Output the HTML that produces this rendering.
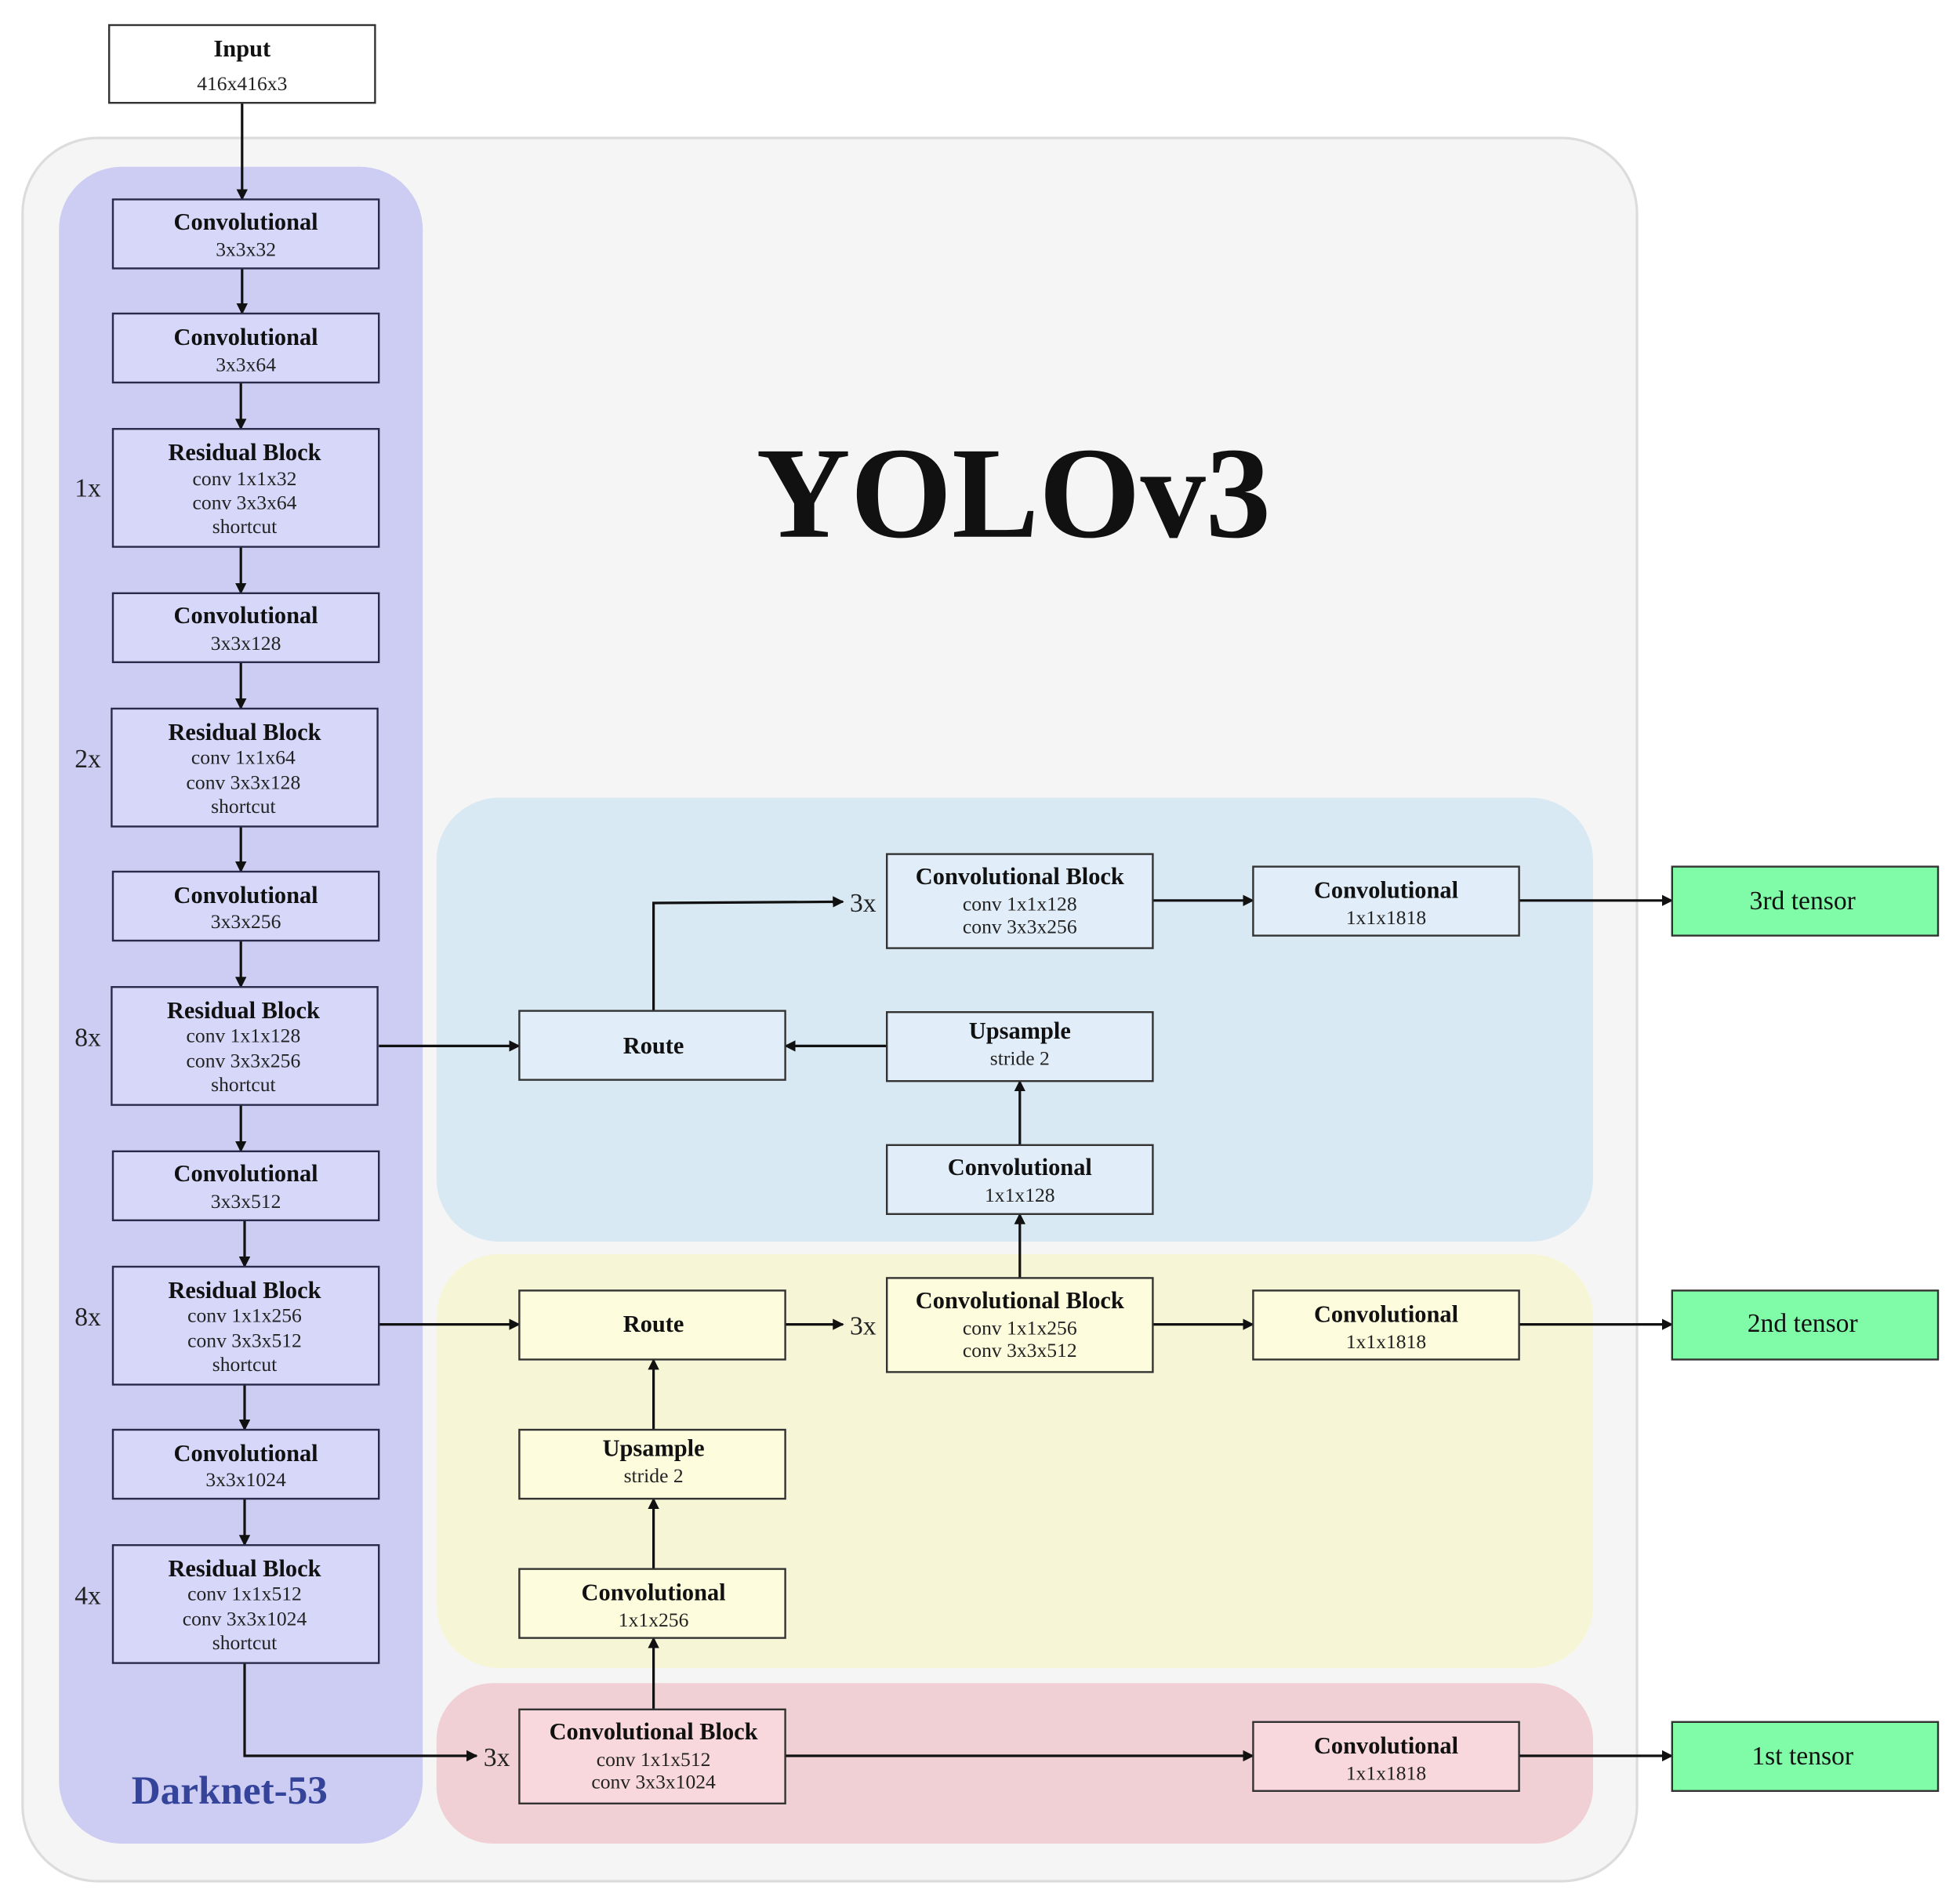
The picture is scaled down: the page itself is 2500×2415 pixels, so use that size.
<!DOCTYPE html>
<html><head><meta charset="utf-8"><style>html,body{margin:0;padding:0;background:#fff}svg{display:block}</style></head><body>
<svg width="2500" height="2415" viewBox="0 0 1562.5 1509.375" xmlns="http://www.w3.org/2000/svg" font-family="'Liberation Serif',serif">
<defs><marker id="a" viewBox="0 0 10 10" refX="9" refY="5" markerWidth="9" markerHeight="9" markerUnits="userSpaceOnUse" orient="auto"><path d="M0,0L10,5L0,10z" fill="#111"/></marker></defs>
<rect x="18" y="110" width="1287" height="1390" rx="60" fill="#f5f5f5" stroke="#dcdcdc" stroke-width="2"/>
<rect x="47" y="133" width="290" height="1337" rx="50" fill="#cdcdf3"/>
<rect x="348" y="636" width="922" height="354" rx="50" fill="#d9e9f3"/>
<rect x="348" y="1000" width="922" height="330" rx="50" fill="#f6f6d6"/>
<rect x="348" y="1342" width="922" height="128" rx="45" fill="#f0d0d5"/>
<text x="808" y="428" font-size="104" font-weight="bold" text-anchor="middle" fill="#111">YOLOv3</text>
<text x="183" y="1438" font-size="32" font-weight="bold" text-anchor="middle" fill="#34449a">Darknet-53</text>
<g stroke="#111" stroke-width="2" fill="none" marker-end="url(#a)">
<path d="M193,82V159"/><path d="M193,214V250"/><path d="M192,305V342"/><path d="M192,436V473"/><path d="M192,528V565"/><path d="M192,659V695"/><path d="M192,750V787"/><path d="M192,881V918"/><path d="M195,973V1010"/><path d="M195,1104V1140"/><path d="M195,1195V1232"/>
<path d="M195,1326V1400H380"/>
<path d="M302,834H414"/><path d="M707,834H626"/><path d="M521,806V720L672,719"/><path d="M919,718H999"/><path d="M1211,718H1333"/>
<path d="M813,913V862"/><path d="M813,1019V968"/>
<path d="M302,1056H414"/><path d="M626,1056H672"/><path d="M919,1056H999"/><path d="M1211,1056H1333"/>
<path d="M521,1140V1084"/><path d="M521,1251V1195"/><path d="M521,1363V1306"/>
<path d="M626,1400L999,1400"/><path d="M1211,1400H1333"/>
</g>
<g font-size="21" fill="#222" text-anchor="middle"><text x="688" y="727">3x</text><text x="688" y="1064">3x</text><text x="396" y="1408">3x</text>
<text x="70" y="396">1x</text><text x="70" y="612">2x</text><text x="70" y="834">8x</text><text x="70" y="1057">8x</text><text x="70" y="1279">4x</text></g>
<g stroke="#333" stroke-width="1.5">
<rect x="87" y="20" width="212" height="62" fill="#fff"/>
<g fill="#d7d7fa" stroke="#2a2a4a">
<rect x="90" y="159" width="212" height="55"/><rect x="90" y="250" width="212" height="55"/><rect x="90" y="342" width="212" height="94"/><rect x="90" y="473" width="212" height="55"/><rect x="89" y="565" width="212" height="94"/><rect x="90" y="695" width="212" height="55"/><rect x="89" y="787" width="212" height="94"/><rect x="90" y="918" width="212" height="55"/><rect x="90" y="1010" width="212" height="94"/><rect x="90" y="1140" width="212" height="55"/><rect x="90" y="1232" width="212" height="94"/>
</g>
<g fill="#e1eef9"><rect x="707" y="681" width="212" height="75"/><rect x="999" y="691" width="212" height="55"/><rect x="414" y="806" width="212" height="55"/><rect x="707" y="807" width="212" height="55"/><rect x="707" y="913" width="212" height="55"/></g>
<g fill="#fdfddd"><rect x="414" y="1029" width="212" height="55"/><rect x="707" y="1019" width="212" height="75"/><rect x="999" y="1029" width="212" height="55"/><rect x="414" y="1140" width="212" height="55"/><rect x="414" y="1251" width="212" height="55"/></g>
<g fill="#f8d8dc"><rect x="414" y="1363" width="212" height="75"/><rect x="999" y="1373" width="212" height="55"/></g>
<g fill="#80fca8"><rect x="1333" y="691" width="212" height="55"/><rect x="1333" y="1029" width="212" height="55"/><rect x="1333" y="1373" width="212" height="55"/></g>
</g>
<g text-anchor="middle" fill="#111">
<g font-size="19" font-weight="bold">
<text x="193" y="45">Input</text>
<text x="196" y="183">Convolutional</text><text x="196" y="275">Convolutional</text><text x="195" y="367">Residual Block</text><text x="196" y="497">Convolutional</text><text x="195" y="590">Residual Block</text><text x="196" y="720">Convolutional</text><text x="194" y="812">Residual Block</text><text x="196" y="942">Convolutional</text><text x="195" y="1035">Residual Block</text><text x="196" y="1165">Convolutional</text><text x="195" y="1257">Residual Block</text>
<text x="813" y="705">Convolutional Block</text><text x="1105" y="716">Convolutional</text><text x="521" y="840">Route</text><text x="813" y="828">Upsample</text><text x="813" y="937">Convolutional</text>
<text x="521" y="1062">Route</text><text x="813" y="1043">Convolutional Block</text><text x="1105" y="1054">Convolutional</text><text x="521" y="1161">Upsample</text><text x="521" y="1276">Convolutional</text>
<text x="521" y="1387">Convolutional Block</text><text x="1105" y="1398">Convolutional</text>
</g>
<g font-size="16" fill="#222">
<text x="193" y="72">416x416x3</text>
<text x="196" y="204">3x3x32</text><text x="196" y="296">3x3x64</text>
<text x="195" y="387">conv 1x1x32</text><text x="195" y="406">conv 3x3x64</text><text x="195" y="425">shortcut</text>
<text x="196" y="518">3x3x128</text>
<text x="194" y="609">conv 1x1x64</text><text x="194" y="629">conv 3x3x128</text><text x="194" y="648">shortcut</text>
<text x="196" y="740">3x3x256</text>
<text x="194" y="831">conv 1x1x128</text><text x="194" y="851">conv 3x3x256</text><text x="194" y="870">shortcut</text>
<text x="196" y="963">3x3x512</text>
<text x="195" y="1054">conv 1x1x256</text><text x="195" y="1074">conv 3x3x512</text><text x="195" y="1093">shortcut</text>
<text x="196" y="1185">3x3x1024</text>
<text x="195" y="1276">conv 1x1x512</text><text x="195" y="1296">conv 3x3x1024</text><text x="195" y="1315">shortcut</text>
<text x="813" y="726">conv 1x1x128</text><text x="813" y="744">conv 3x3x256</text><text x="1105" y="737">1x1x1818</text><text x="813" y="849">stride 2</text><text x="813" y="958">1x1x128</text>
<text x="813" y="1064">conv 1x1x256</text><text x="813" y="1082">conv 3x3x512</text><text x="1105" y="1075">1x1x1818</text><text x="521" y="1182">stride 2</text><text x="521" y="1297">1x1x256</text>
<text x="521" y="1408">conv 1x1x512</text><text x="521" y="1426">conv 3x3x1024</text><text x="1105" y="1419">1x1x1818</text>
</g>
<g font-size="21"><text x="1437" y="725">3rd tensor</text><text x="1437" y="1062">2nd tensor</text><text x="1437" y="1407">1st tensor</text></g>
</g>
</svg>
</body></html>
